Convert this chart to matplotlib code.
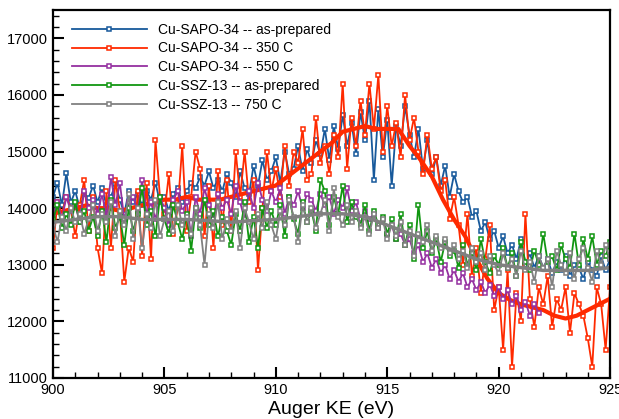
import numpy as np
import matplotlib.pyplot as plt
from matplotlib.ticker import MultipleLocator

# energy grid, 0.2 eV steps
ke = np.round(np.arange(900.0, 925.01, 0.2), 1)
ke_550 = ke[:110]  # 550 C scan stops near 921.8 eV

sapo_asprep = [
    14200, 14450, 14050, 14620, 14100, 14300, 14000, 14250, 14180, 14400,
    14100, 14350, 14050, 14200, 14420, 14150, 13900, 14300, 14100, 14250,
    14050, 14300, 14150, 14450, 14100, 14200, 13950, 14250, 14350, 14100,
    14300, 14450, 14350, 14550, 14400, 14650, 14350, 14500, 14300, 14600,
    14450, 14200, 14650, 14350, 14250, 14750, 14400, 14850, 14500, 14650,
    14900, 14450, 15000, 14600, 14700, 15100, 14650, 15050, 14800, 15200,
    14950, 15400, 14850, 15450, 15050, 15650, 15100, 15500, 14950, 15700,
    15200, 15900, 14500, 15750, 14900, 15550, 14400, 15450, 15100, 15800,
    15300, 14900, 15400, 14700, 15200, 14600, 14900, 14400, 14750, 14200,
    14600, 14300, 14100, 14200, 13850, 13950, 13600, 13750, 13450, 13600,
    13300, 13500, 13200, 13350, 13100, 13450, 13000, 13200, 12950, 13150,
    12950, 13100, 12850, 13050, 12900, 13150, 12800, 13000, 12950, 12750,
    13050, 12900, 12800, 13150, 12900, 13100,
]

sapo_350 = [
    13300, 14100, 13900, 14200, 14000, 13500, 14050, 14500, 13600, 14200,
    13300, 12850, 14300, 13300, 14500, 13950, 12700, 13300, 13050, 14300,
    13150, 14450, 13100, 15200, 14200, 13900, 14600, 13550, 14000, 15100,
    13600, 14200, 15000, 14700, 13500, 14400, 13300, 14650, 13700, 14500,
    13600, 15000, 14200, 15000, 14100, 14500, 12900, 14000, 15000, 14300,
    14700, 14200, 15100, 14400, 15000, 14800, 15400, 14500, 14600, 15600,
    14800, 15100, 14600, 15300, 14900, 16200, 14700, 15600, 15100, 15900,
    15300, 16200, 15400, 16350, 15000, 15800, 15100, 15500, 14900, 16000,
    15200, 15600, 15000, 14600, 15300, 14700, 14900, 14300, 14500, 13800,
    14200, 13700, 13000, 13900, 12800, 13300, 12500, 13100, 13700, 12200,
    12600, 11500, 12900, 11200, 12500, 12000, 13900, 12400, 11900, 12600,
    12300, 12800, 11900, 12400, 12200, 12600, 11800, 12500, 12300, 12100,
    11700, 11200, 12600, 12300, 11500, 12600,
]

sapo_550 = [
    13900, 14100, 13800, 14200, 13950, 14050, 13750, 14300, 14000, 14150,
    13900, 14250, 13850, 14550, 14050, 14450, 13800, 14100, 14200, 13950,
    14500, 13900, 14100, 13800, 14200, 14000, 13700, 14150, 14300, 13950,
    14100, 13500, 14200, 13900, 14350, 14050, 13800, 14250, 14000, 14150,
    13900, 14400, 14100, 13800, 14300, 14000, 14450, 14150, 13950, 14300,
    14100, 14350, 13900, 14200, 14050, 14300, 14000, 14250, 14150, 13950,
    14250, 14050, 14200, 13900, 14150, 14000, 14350, 13950, 14100, 13800,
    13950, 13800, 13900, 13650, 13800, 13550, 13700, 13450, 13550, 13350,
    13450, 13200, 13350, 13050, 13200, 12950, 13100, 12850, 13000, 12750,
    12900, 12700, 12850, 12600, 12750, 12550, 12700, 12500, 12650, 12450,
    12600, 12400, 12550, 12300, 12450, 12200, 12350, 12100, 12300, 12150,
]

ssz_asprep = [
    13800, 14050, 13650, 13900, 13700, 14100, 13750, 13950, 13600, 13850,
    13500, 13950, 13400, 14150, 13650, 13850, 13350, 14000, 13600, 13900,
    14350, 13700, 13950, 13500, 14200, 13800, 13550, 14050, 13750, 13450,
    13900, 13250, 14000, 13650, 14150, 13700, 13950, 13500, 13850, 13600,
    13350, 13900, 13600, 14100, 13400, 13850, 13300, 14000, 13650, 13950,
    13700, 14050, 13500, 14200, 13800, 13550, 14100, 13750, 13950, 13600,
    14500, 14300, 13700, 14200, 13900, 14400, 13750, 14100, 13850, 13700,
    14050, 13600, 13950, 13700, 13850, 13550, 13800, 13450, 13900, 13350,
    13700, 13100, 14050, 13300, 13600, 13200, 13450, 13050, 13400, 13150,
    13250, 12950, 13350, 13000, 13200, 12900, 13450, 13050, 12850, 13150,
    13000, 13300, 12950, 13200, 12800, 13400, 13050, 12900, 13250, 13000,
    13550, 13050, 13150, 12900, 13350, 13100, 12950, 13550, 13000, 13450,
    13100, 13500, 13000, 13250, 13150, 13400,
]

ssz_750 = [
    13700, 13400, 13850, 13600, 14000, 13750, 13900, 13550, 13800, 14050,
    13600, 13900, 13750, 14100, 13500, 13950, 13700, 14250, 13450, 14000,
    13300, 13900, 13650, 14150, 13500, 13800, 13950, 13600, 14050, 13700,
    13850, 13550, 14000, 13700, 13000, 13900, 13650, 14100, 13450, 13800,
    13600, 13950, 13300, 14000, 13750, 13450, 13900, 13650, 14100, 13700,
    13450, 13950, 13700, 14150, 13850, 13400, 14050, 13750, 14000, 13650,
    13900, 14150, 13600, 14350, 13850, 13700, 14050, 13750, 13950, 13650,
    13850, 13550, 13900, 13650, 13800, 13450, 13700, 13500, 13750, 13350,
    13600, 13150, 13550, 13400, 13700, 13250, 13500, 13300, 13450, 13200,
    13350, 13100, 13250, 12950, 13300, 13050, 13200, 12900, 13150, 13000,
    12850, 13200, 12950, 13100, 12800, 13250, 12900, 13050, 12700, 13150,
    12950, 13100, 12600, 13250, 13000, 12850, 13200, 12750, 13100, 13300,
    12950, 12700, 13250, 13000, 13350, 13100,
]

# smoothed curves (drawn as thick lines)
ke_smooth_350 = np.round(np.arange(900.0, 925.01, 0.5), 1)
smooth_350 = [
    13900, 13950, 14000, 14050, 14000, 14000, 13950, 14000, 14050, 14100,
    14150, 14150, 14200, 14150, 14150, 14150, 14200, 14250, 14300, 14350,
    14400, 14550, 14700, 14850, 15000, 15150, 15350, 15400, 15450, 15400,
    15400, 15400, 15100, 14850, 14560, 14150, 13800, 13500, 13100, 12750,
    12500, 12380, 12300, 12250, 12200, 12100, 12050, 12100, 12200, 12300,
    12400,
]

ke_smooth_750 = np.arange(900, 926, 1)
smooth_750 = [
    13750, 13800, 13850, 13850, 13800, 13800, 13800, 13780, 13750, 13780,
    13800, 13850, 13900, 13900, 13850, 13700, 13550, 13400, 13250, 13100,
    13000, 12950, 12900, 12900, 12900, 12950,
]

series = [
    (ke, sapo_asprep, '#17599b', 'Cu-SAPO-34 -- as-prepared'),
    (ke, sapo_350, '#ff2a00', 'Cu-SAPO-34 -- 350 C'),
    (ke_550, sapo_550, '#9530a0', 'Cu-SAPO-34 -- 550 C'),
    (ke, ssz_asprep, '#119611', 'Cu-SSZ-13 -- as-prepared'),
    (ke, ssz_750, '#808080', 'Cu-SSZ-13 -- 750 C'),
]

plt.rcParams['font.family'] = ['Liberation Sans', 'DejaVu Sans']

fig = plt.figure(figsize=(6.19, 4.19), dpi=100)
ax = fig.add_axes([0.0856, 0.098, 0.9, 0.878])

for x, y, c, lab in series:
    ax.plot(x, y, color=c, lw=1.3, marker='s', ms=3.2, mfc='white',
            mec=c, mew=1.1, label=lab)
    if lab.endswith('350 C'):
        ax.plot(ke_smooth_350, smooth_350, color=c, lw=3)

ax.plot(ke_smooth_750, smooth_750, color='#808080', lw=2.5)

ax.set_xlim(900, 925)
ax.set_ylim(11000, 17500)
ax.xaxis.set_major_locator(MultipleLocator(5))
ax.xaxis.set_minor_locator(MultipleLocator(1))
ax.yaxis.set_major_locator(MultipleLocator(1000))
ax.yaxis.set_minor_locator(MultipleLocator(200))
ax.tick_params(which='both', direction='in', labelsize=10.5, top=False, right=False)
ax.tick_params(which='major', length=8, width=1.5)
ax.tick_params(which='minor', length=4, width=1)
for s in ax.spines.values():
    s.set_linewidth(1.6)

ax.set_xlabel('Auger KE (eV)', fontsize=14, labelpad=3)

ax.legend(loc='upper left', bbox_to_anchor=(0.034, 0.966), frameon=False,
          fontsize=10, handlelength=5.4, borderaxespad=0.0, borderpad=0.0,
          labelspacing=0.35, handletextpad=0.8)

fig.savefig('out.png', dpi=100)
